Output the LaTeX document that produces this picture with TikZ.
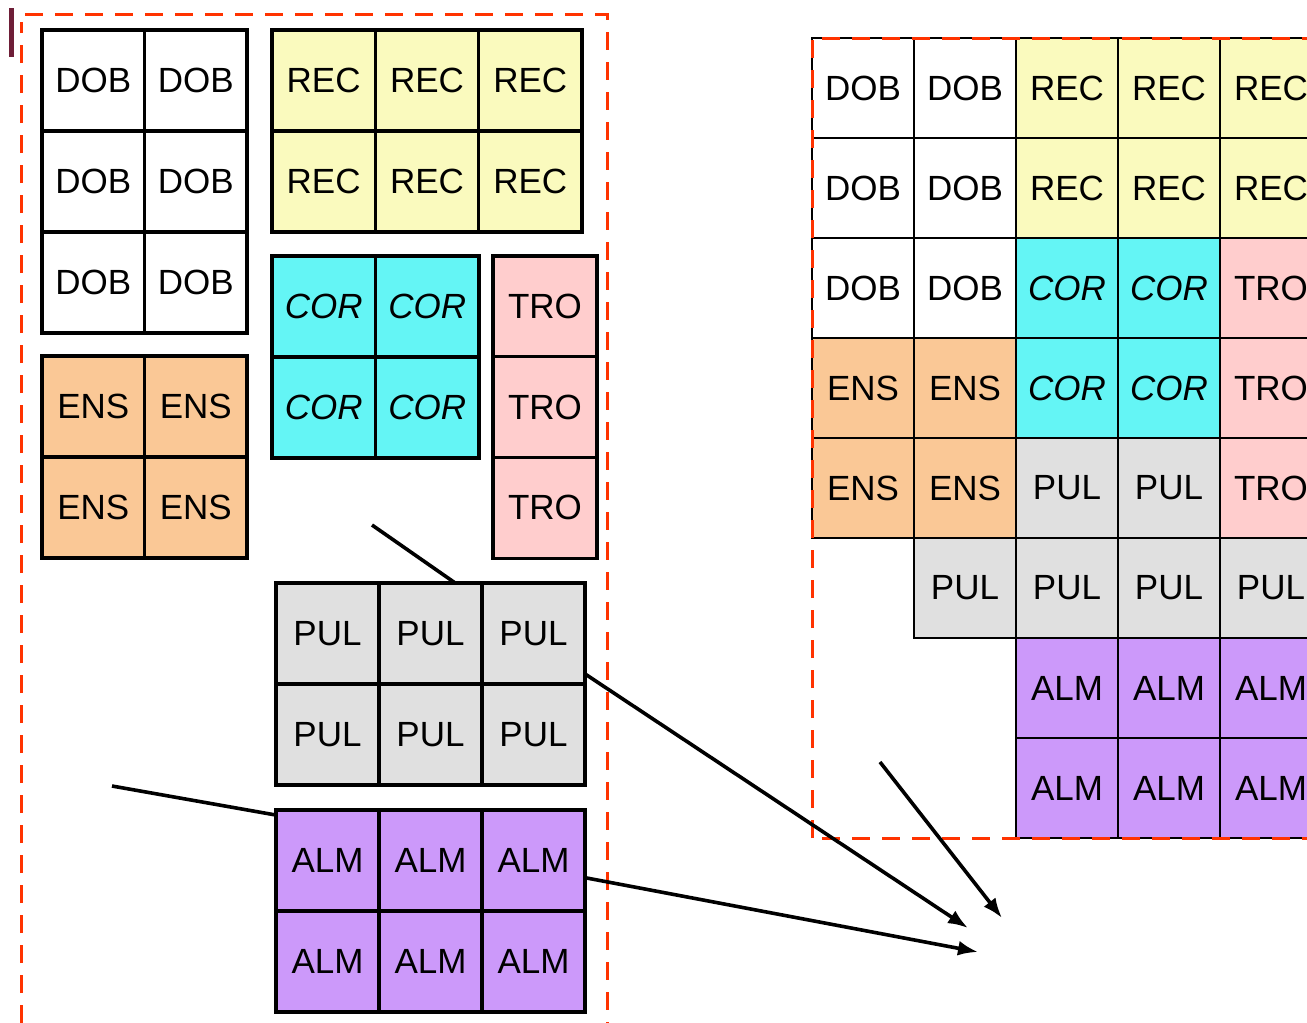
\documentclass[tikz,border=0pt]{standalone}
\usepackage{fontspec}
\setmainfont{Liberation Sans}
\usetikzlibrary{arrows.meta,calc}

\definecolor{cDOB}{RGB}{255,255,255}
\definecolor{cREC}{RGB}{250,250,190}
\definecolor{cCOR}{RGB}{100,245,245}
\definecolor{cTRO}{RGB}{255,205,205}
\definecolor{cENS}{RGB}{250,200,150}
\definecolor{cPUL}{RGB}{224,224,224}
\definecolor{cALM}{RGB}{204,153,250}
\definecolor{dashred}{RGB}{255,51,0}
\definecolor{barmaroon}{RGB}{110,30,55}

% cell texts (COR is set in italics)
\def\txtDOB{DOB}\def\txtREC{REC}\def\txtENS{ENS}\def\txtTRO{TRO}
\def\txtPUL{PUL}\def\txtALM{ALM}\def\txtCOR{\textit{COR}}

% a block of equal cells: name, x0, y0, cols, rows, width, height, label
\newcommand\cellgrid[8]{%
  \foreach \c in {1,...,#4}{%
    \foreach \r in {1,...,#5}{%
      \node[cell, fill=c#8, minimum width=#6pt, minimum height=#7pt]
        (#1-\c-\r) at ({#2+(\c-0.5)*#6},{#3+(\r-0.5)*#7}) {\csname txt#8\endcsname};
    }}}

% one row of the merged layout: row index, list of column/label pairs
\newcommand\mergedrow[2]{%
  \foreach \c/\lab in {#2}{%
    \node[cell, thin cell, fill=c\lab, minimum width=102pt, minimum height=100pt]
      (m-\c-#1) at ({812+(\c-0.5)*102},{38+(#1-0.5)*100}) {\csname txt\lab\endcsname};
  }}

\begin{document}
\begin{tikzpicture}[x=1pt,y=-1pt,
  cell/.style={draw=black, line width=3.2pt, inner sep=0pt, outer sep=0pt,
    font=\fontsize{35}{35}\selectfont},
  thin cell/.style={line width=2.6pt},
  reddash/.style={draw=dashred, line width=3pt, dash pattern=on 18pt off 12pt},
  link/.style={draw=black, line width=3.6pt},
  arrow/.style={link, -{Latex[length=20pt,width=15pt]}}]

\useasboundingbox (0,0) rectangle (1307,1023);
\clip (0,0) rectangle (1307,1023);

% small bar at the top left
\fill[barmaroon] (9,8) rectangle (14,57);

% separate blocks
\cellgrid{dob}{42}{30}{2}{3}{102.5}{101}{DOB}
\cellgrid{rec}{272}{30}{3}{2}{103.3}{101}{REC}
\cellgrid{ens}{42}{356}{2}{2}{102.5}{101}{ENS}
\cellgrid{cor}{272}{256}{2}{2}{103.5}{101}{COR}
\cellgrid{tro}{493}{256}{1}{3}{104}{100.7}{TRO}
\cellgrid{pul}{276}{583}{3}{2}{103}{101}{PUL}
\cellgrid{alm}{276}{810}{3}{2}{103}{101}{ALM}

% frame around the separate blocks
\draw[reddash] (21,1023) -- (21,22);
\draw[reddash] (25,14) -- (607,14) -- (607,1023);

% merged layout
\mergedrow{1}{1/DOB,2/DOB,3/REC,4/REC,5/REC}
\mergedrow{2}{1/DOB,2/DOB,3/REC,4/REC,5/REC}
\mergedrow{3}{1/DOB,2/DOB,3/COR,4/COR,5/TRO}
\mergedrow{4}{1/ENS,2/ENS,3/COR,4/COR,5/TRO}
\mergedrow{5}{1/ENS,2/ENS,3/PUL,4/PUL,5/TRO}
\mergedrow{6}{2/PUL,3/PUL,4/PUL,5/PUL}
\mergedrow{7}{3/ALM,4/ALM,5/ALM}
\mergedrow{8}{3/ALM,4/ALM,5/ALM}

% frame around the merged layout
\draw[reddash] (812,838) -- (812,38) -- (1330,38);
\draw[reddash] (822,838) -- (1330,838);

% connectors
\coordinate (s1) at (372,525);
\coordinate (s2) at (112,786);
\coordinate (s3) at (880,762);
\coordinate (t1) at (968,928);
\coordinate (t2) at (978,952);
\coordinate (t3) at (1002,918);

\draw[link] (s1) -- ($(pul-2-1.north west)!0.74!(pul-2-1.north east)$);
\draw[link] (s2) -- ($(alm-1-1.north west)!0.05!(alm-1-1.south west)$);
\draw[arrow] ($(pul-3-1.south east)!0.1!(pul-3-1.north east)$) -- (t1);
\draw[arrow] ($(alm-3-1.north east)!0.67!(alm-3-1.south east)$) -- (t2);
\draw[arrow] (s3) -- (t3);

\end{tikzpicture}
\end{document}
